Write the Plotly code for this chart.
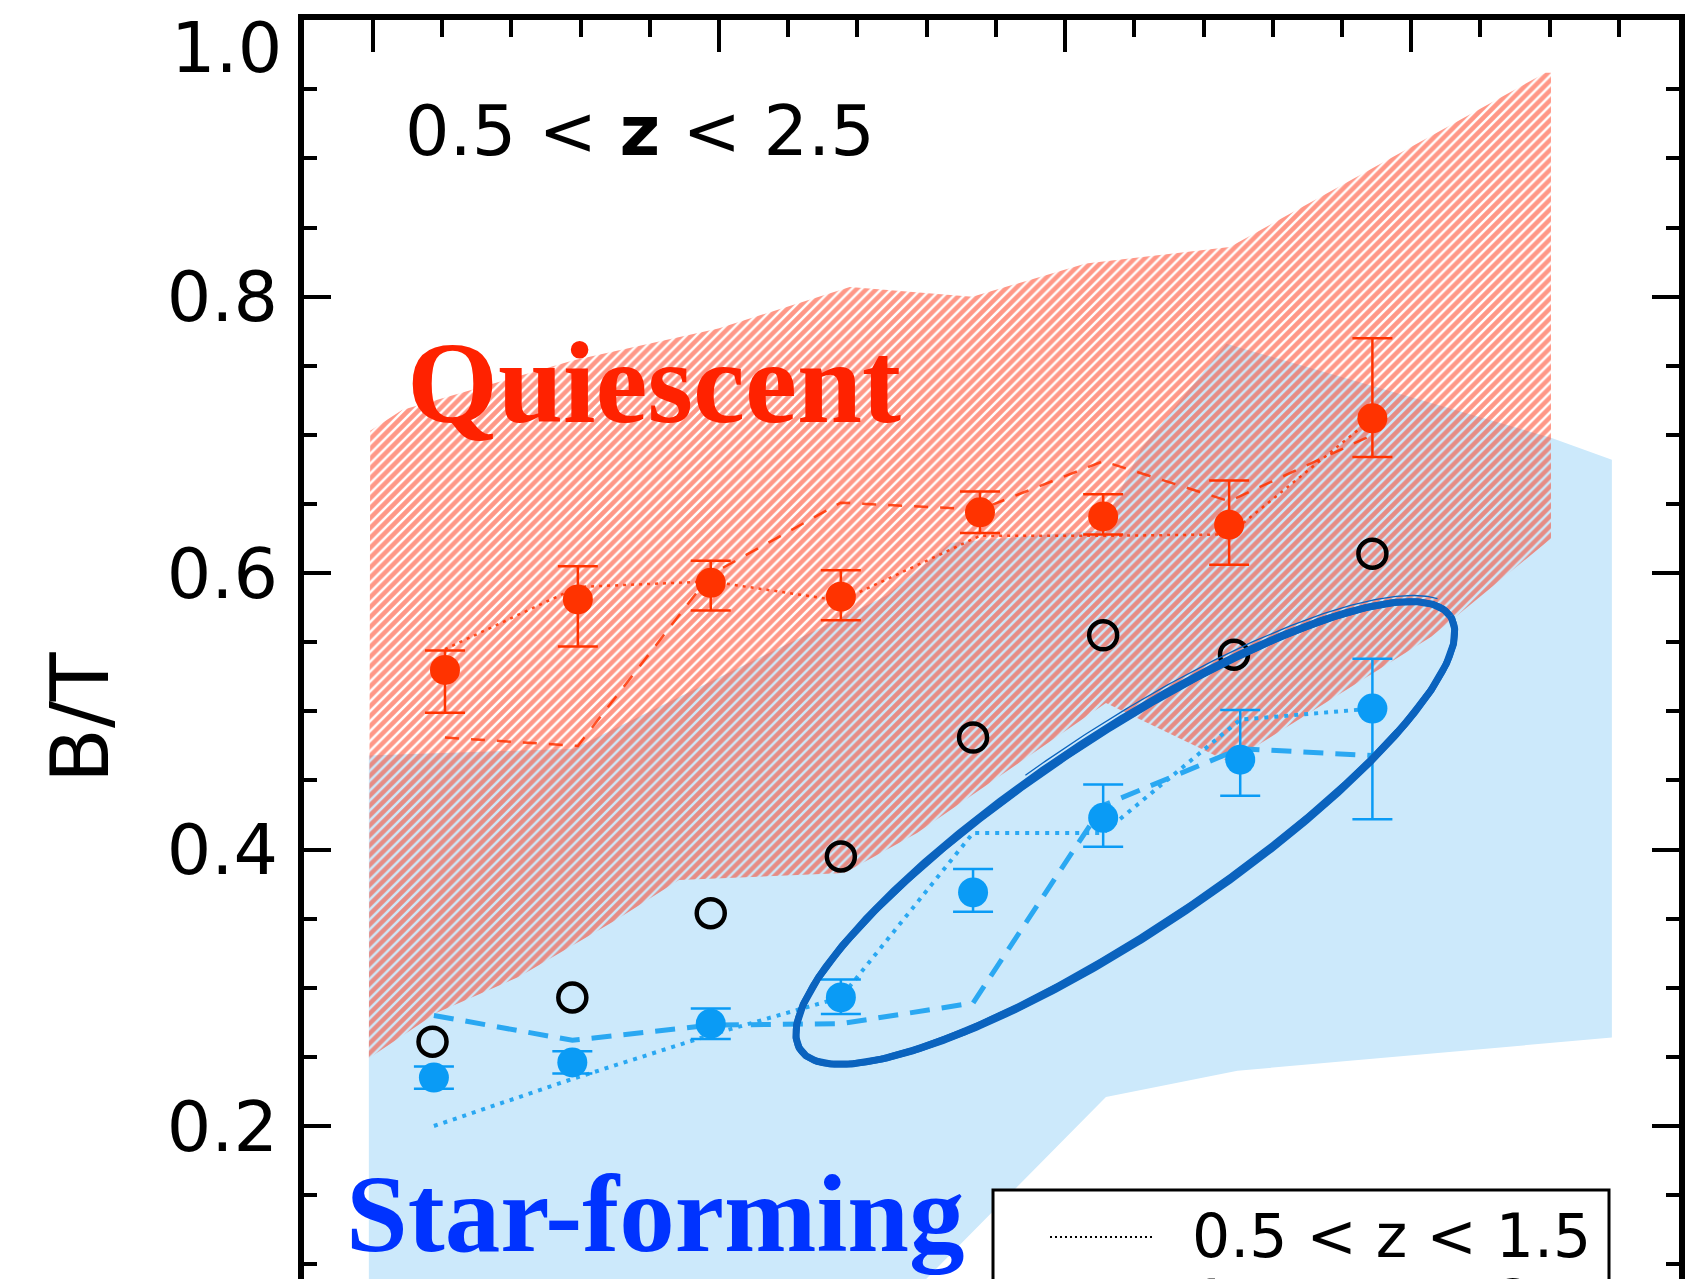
import numpy as np
import plotly.graph_objects as go

# ---------------- data ----------------
# stellar-mass bins (x) and bulge-to-total ratios (y)
x_red = [10.104, 10.296, 10.488, 10.676, 10.877, 11.055, 11.237, 11.444]
bt_red = [0.530, 0.581, 0.593, 0.583, 0.644, 0.641, 0.635, 0.712]
bt_red_hi = [0.544, 0.605, 0.609, 0.602, 0.659, 0.657, 0.667, 0.770]
bt_red_lo = [0.499, 0.547, 0.573, 0.566, 0.629, 0.628, 0.606, 0.684]
red_dotted = [0.545, 0.590, 0.594, 0.580, 0.627, 0.627, 0.628, 0.712]
red_dashed = [0.481, 0.475, 0.599, 0.651, 0.646, 0.681, 0.652, 0.700]

x_blue = [10.088, 10.288, 10.488, 10.676, 10.867, 11.055, 11.253, 11.444]
bt_blue = [0.235, 0.246, 0.274, 0.293, 0.369, 0.423, 0.465, 0.502]
bt_blue_hi = [0.243, 0.254, 0.285, 0.306, 0.386, 0.447, 0.501, 0.538]
bt_blue_lo = [0.227, 0.238, 0.263, 0.281, 0.355, 0.402, 0.439, 0.422]
blue_dotted = [0.200, 0.234, 0.266, 0.293, 0.412, 0.412, 0.494, 0.502]
blue_dashed = [0.280, 0.262, 0.273, 0.274, 0.289, 0.432, 0.473, 0.468]

x_all = [10.086, 10.288, 10.488, 10.676, 10.867, 11.055, 11.244, 11.444]
bt_all = [0.261, 0.293, 0.354, 0.395, 0.481, 0.555, 0.541, 0.614]

# quiescent band (hatched): upper and lower envelopes
q_top_x = [9.994, 9.996, 10.042, 10.290, 10.499, 10.689, 10.866, 11.030, 11.238, 11.694, 11.702]
q_top_y = [0.249, 0.703, 0.718, 0.754, 0.777, 0.807, 0.800, 0.824, 0.836, 0.962, 0.962]
q_bot_x = [9.994, 10.092, 10.211, 10.351, 10.442, 10.681, 10.786, 11.059, 11.238, 11.529, 11.702]
q_bot_y = [0.249, 0.282, 0.308, 0.349, 0.378, 0.383, 0.412, 0.506, 0.463, 0.554, 0.625]

# star-forming band (solid light blue)
sf_top_x = [9.994, 10.290, 10.743, 10.835, 11.051, 11.110, 11.233, 11.702, 11.790]
sf_top_y = [0.468, 0.473, 0.584, 0.622, 0.631, 0.690, 0.766, 0.698, 0.682]
sf_bot_x = [9.994, 10.623, 11.059, 11.249, 11.790]
sf_bot_y = [0.000, 0.000, 0.221, 0.240, 0.264]

# highlight ellipse: centre and semi-axis vectors (data units)
ell_center = (11.087, 0.412)
ell_major = (0.4696, 0.1568)
ell_minor = (-0.0782, 0.0587)

yticks = [0.2, 0.4, 0.6, 0.8, 1.0]

# ---------------- colours ----------------
RED = '#FF3300'
HATCH = '#FF3010'
BLUE_PT = '#0A9BF5'
BLUE_LN = '#2AA8F2'
BLUE_BAND = '#CCE9FB'
ELL = '#0B63BE'

fig = go.Figure()

# star-forming band
fig.add_trace(go.Scatter(
    x=sf_top_x + sf_bot_x[::-1], y=sf_top_y + sf_bot_y[::-1],
    fill='toself', fillcolor=BLUE_BAND, mode='lines',
    line=dict(width=0, color='rgba(0,0,0,0)'), hoverinfo='skip', showlegend=False))

# quiescent hatched band
fig.add_trace(go.Scatter(
    x=q_top_x + q_bot_x[::-1], y=q_top_y + q_bot_y[::-1],
    fill='toself', mode='lines', fillcolor='rgba(0,0,0,0)',
    fillpattern=dict(shape='/', fgcolor=HATCH, bgcolor='rgba(0,0,0,0)', size=7, solidity=0.65),
    line=dict(width=0, color='rgba(0,0,0,0)'), hoverinfo='skip', showlegend=False))

# red redshift-split lines
fig.add_trace(go.Scatter(x=x_red, y=red_dotted, mode='lines',
                         line=dict(color=RED, width=2.5, dash='3px,5px'), opacity=0.85, showlegend=False))
fig.add_trace(go.Scatter(x=x_red, y=red_dashed, mode='lines',
                         line=dict(color=RED, width=2.5, dash='14px,12px'), opacity=0.85, showlegend=False))

# blue redshift-split lines
fig.add_trace(go.Scatter(x=x_blue, y=blue_dotted, mode='lines',
                         line=dict(color=BLUE_LN, width=4, dash='4px,6px'), showlegend=False))
fig.add_trace(go.Scatter(x=x_blue, y=blue_dashed, mode='lines',
                         line=dict(color=BLUE_LN, width=5, dash='20px,12px'), showlegend=False))

# red points
fig.add_trace(go.Scatter(
    x=x_red, y=bt_red, mode='markers',
    marker=dict(size=30, color=RED),
    error_y=dict(type='data', symmetric=False,
                 array=[h - v for h, v in zip(bt_red_hi, bt_red)],
                 arrayminus=[v - l for v, l in zip(bt_red, bt_red_lo)],
                 color=RED, thickness=2.5, width=20),
    showlegend=False))

# blue points
fig.add_trace(go.Scatter(
    x=x_blue, y=bt_blue, mode='markers',
    marker=dict(size=30, color=BLUE_PT),
    error_y=dict(type='data', symmetric=False,
                 array=[h - v for h, v in zip(bt_blue_hi, bt_blue)],
                 arrayminus=[v - l for v, l in zip(bt_blue, bt_blue_lo)],
                 color=BLUE_PT, thickness=2.5, width=20),
    showlegend=False))

# all galaxies (open circles)
fig.add_trace(go.Scatter(
    x=x_all, y=bt_all, mode='markers',
    marker=dict(symbol='circle-open', size=28, color='black', line=dict(width=4.5, color='black')),
    showlegend=False))

# hand-drawn ellipse (several overlapping strokes)
t = np.linspace(0, 2 * np.pi, 600)
for sa, sb, w, rng in [(1.0, 1.0, 7, (0, 2 * np.pi)),
                       (1.006, 1.035, 2.0, (0, 2 * np.pi)),
                       (0.994, 0.965, 2.0, (0, 2 * np.pi)),
                       (1.02, 1.07, 1.3, (0.2, 1.7))]:
    tt = t[(t >= rng[0]) & (t <= rng[1])]
    ex = ell_center[0] + sa * ell_major[0] * np.cos(tt) + sb * ell_minor[0] * np.sin(tt)
    ey = ell_center[1] + sa * ell_major[1] * np.cos(tt) + sb * ell_minor[1] * np.sin(tt)
    fig.add_trace(go.Scatter(x=ex, y=ey, mode='lines', line=dict(color=ELL, width=w),
                             hoverinfo='skip', showlegend=False))

# ---------------- layout ----------------
W, H = 1701, 1279
ML, MR, MT, MB = 304, 22, 20, 0

def px_x(p):
    return (p - ML) / (W - ML - MR)

def px_y(p):
    return (H - MB - p) / (H - MT - MB)

TICKFONT = dict(family='DejaVu Sans', size=70, color='black')

annotations = [
    dict(x=10.386, y=0.920, xref='x', yref='y', text='0.5 &lt; <b>z</b> &lt; 2.5', showarrow=False,
         font=dict(family='DejaVu Sans', size=70, color='black'), xanchor='center', yanchor='middle'),
    dict(x=10.406, y=0.738, xref='x', yref='y', text='<b>Quiescent</b>', showarrow=False,
         font=dict(family='Liberation Serif', size=117, color='#FF2200'), xanchor='center', yanchor='middle'),
    dict(x=10.408, y=0.137, xref='x', yref='y', text='<b>Star-forming</b>', showarrow=False,
         font=dict(family='Liberation Serif', size=111, color='#0033FF'), xanchor='center', yanchor='middle'),
    dict(x=px_x(81), y=px_y(717), xref='paper', yref='paper', text='B/T', showarrow=False, textangle=-90,
         font=dict(family='DejaVu Sans', size=80, color='black'), xanchor='center', yanchor='middle'),
    # top tick label, nudged down inside the canvas as in the original
    dict(x=px_x(226), y=px_y(48), xref='paper', yref='paper', text='1.0', showarrow=False,
         font=TICKFONT, xanchor='center', yanchor='middle'),
    dict(x=px_x(1190), y=px_y(1236), xref='paper', yref='paper', text='0.5 &lt; z &lt; 1.5', showarrow=False,
         font=dict(family='DejaVu Sans', size=60, color='black'), xanchor='left', yanchor='middle'),
    dict(x=px_x(1190), y=px_y(1302), xref='paper', yref='paper', text='1.5 &lt; z &lt; 2.5', showarrow=False,
         font=dict(family='DejaVu Sans', size=60, color='black'), xanchor='left', yanchor='middle'),
]

shapes = [
    dict(type='rect', xref='paper', yref='paper', x0=px_x(993), x1=px_x(1609), y0=-0.2, y1=px_y(1190),
         line=dict(color='black', width=3), fillcolor='white', layer='above'),
    dict(type='line', xref='paper', yref='paper', x0=px_x(1050), x1=px_x(1152), y0=px_y(1237), y1=px_y(1237),
         line=dict(color='black', width=2, dash='2px,3px'), layer='above'),
    dict(type='line', xref='paper', yref='paper', x0=px_x(1050), x1=px_x(1152), y0=px_y(1302), y1=px_y(1302),
         line=dict(color='black', width=2, dash='8px,6px'), layer='above'),
]

fig.update_layout(
    width=W, height=H, margin=dict(l=ML, r=MR, t=MT, b=MB, pad=0),
    paper_bgcolor='white', plot_bgcolor='white',
    showlegend=False, annotations=annotations, shapes=shapes,
    xaxis=dict(range=[9.9003, 11.887], side='top', showline=True, linewidth=6, linecolor='black',
               ticks='inside', ticklen=32, tickwidth=4, tickcolor='black', tick0=10, dtick=0.5,
               showticklabels=False, showgrid=False, zeroline=False,
               minor=dict(ticks='inside', ticklen=17, tickwidth=4, tickcolor='black', tick0=10, dtick=0.1,
                          showgrid=False)),
    yaxis=dict(range=[0.0893, 1.0002], showline=True, linewidth=6, linecolor='black', mirror='ticks',
               ticks='inside', ticklen=27, tickwidth=4, tickcolor='black',
               tickmode='array', tickvals=yticks,
               ticktext=['%.1f' % v if v < 1.0 else '' for v in yticks],
               ticklabelstandoff=6,
               tickfont=TICKFONT,
               showgrid=False, zeroline=False,
               minor=dict(ticks='inside', ticklen=13, tickwidth=4, tickcolor='black', tick0=0, dtick=0.05,
                          showgrid=False)),
)

fig.write_html("out.html", config={'displayModeBar': False},
               post_script="document.body.style.margin='0';document.body.style.overflow='hidden';")
